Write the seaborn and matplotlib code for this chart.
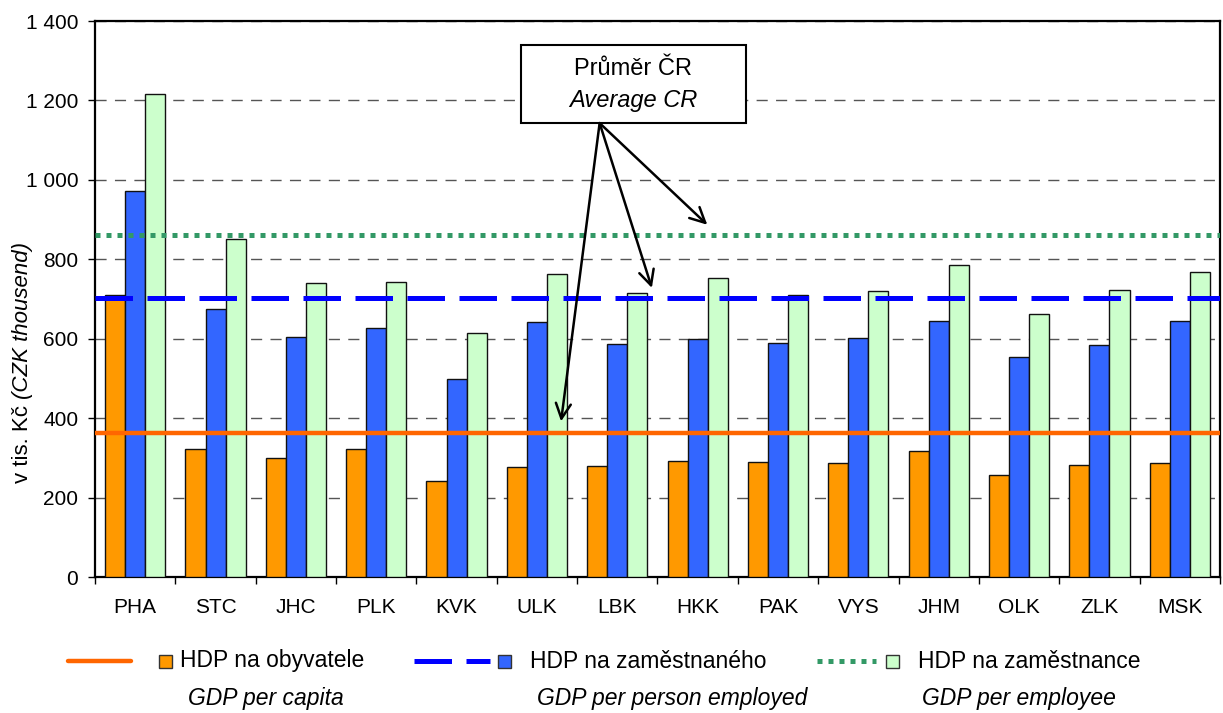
import numpy as np
import pandas as pd
import matplotlib
matplotlib.use("Agg")
import matplotlib.pyplot as plt
import seaborn as sns
from matplotlib.lines import Line2D
from matplotlib.patches import Rectangle
from matplotlib.ticker import FuncFormatter, MultipleLocator, FixedLocator

# data (v tis. Kč)
regions = ["PHA", "STC", "JHC", "PLK", "KVK", "ULK", "LBK", "HKK", "PAK", "VYS", "JHM", "OLK", "ZLK", "MSK"]
gdp_per_capita = [711, 322, 300, 322, 241, 276, 280, 292, 290, 288, 318, 256, 283, 286]
gdp_per_person_employed = [973, 675, 604, 627, 499, 642, 587, 599, 590, 601, 645, 555, 585, 645]
gdp_per_employee = [1216, 851, 740, 743, 614, 764, 715, 753, 709, 721, 786, 662, 723, 768]
series_names = ["HDP na obyvatele", "HDP na zaměstnaného", "HDP na zaměstnance"]
series_names_en = ["GDP per capita", "GDP per person employed", "GDP per employee"]
cr_average = [362, 702, 860]

bar_colors = ["#FF9900", "#3366FF", "#CCFFCC"]
line_colors = ["#FF6600", "#0000FF", "#339966"]

sns.set_theme(style="white")
plt.rcParams["font.family"] = ["Liberation Sans", "DejaVu Sans"]
plt.rcParams["text.color"] = "black"

df = pd.DataFrame({
    "kraj": regions * 3,
    "hodnota": gdp_per_capita + gdp_per_person_employed + gdp_per_employee,
    "serie": np.repeat(series_names, len(regions)),
})

fig = plt.figure(figsize=(12.23, 7.13), dpi=100)
ax = fig.add_axes([0.0777, 0.1907, 0.9198, 0.7798])

sns.barplot(data=df, x="kraj", y="hodnota", hue="serie", hue_order=series_names,
            palette=bar_colors, width=0.75, edgecolor="#111111", linewidth=1.0,
            saturation=1, legend=False, ax=ax, zorder=3)

# averages for CR
ax.axhline(cr_average[0], color=line_colors[0], lw=3.2, zorder=4)
ax.axhline(cr_average[1], color=line_colors[1], lw=3.6, dashes=(7.5, 2.9), zorder=4)
ax.axhline(cr_average[2], color=line_colors[2], lw=3.6, dashes=(1.0, 1.2), zorder=4)

ax.set_xlim(-0.5, len(regions) - 0.5)
ax.set_ylim(0, 1400)
ax.yaxis.set_major_locator(MultipleLocator(200))
ax.yaxis.set_major_formatter(FuncFormatter(lambda v, p: f"{int(v):,}".replace(",", " ")))
ax.yaxis.grid(True, color="#555555", lw=1.0, dashes=(8, 6))
ax.set_axisbelow(True)
for s in ax.spines.values():
    s.set_color("black")
    s.set_linewidth(1.6)

ax.set_xlabel("")
ax.set_ylabel("")
ax.tick_params(axis="x", which="major", length=0, pad=15, labelsize=15, colors="black")
ax.xaxis.set_minor_locator(FixedLocator(np.arange(-0.5, len(regions), 1.0)))
ax.tick_params(axis="x", which="minor", bottom=True, length=5, width=1, color="black")
ax.tick_params(axis="y", which="major", left=True, length=5, width=1, pad=7, labelsize=15,
               colors="black")

# y label: normal + italic part
t1 = fig.text(0.018, 0.3226, "v tis. Kč ", rotation=90, ha="center", va="bottom", fontsize=16)
ax.annotate("(CZK thousend)", xy=(0.5, 1.0), xycoords=t1, rotation=90, ha="center",
            va="bottom", fontsize=16, style="italic", annotation_clip=False)

# annotation box "Průměr ČR"
ax.add_patch(Rectangle((4.80, 1143), 2.80, 197, facecolor="white", edgecolor="black",
                       lw=1.5, zorder=6))
ax.text(6.2, 1279, "Průměr ČR", ha="center", va="center", fontsize=17, zorder=7)
ax.text(6.2, 1201, "Average CR", ha="center", va="center", fontsize=17, style="italic", zorder=7)
for tip in [(5.30, 392), (6.43, 728), (7.12, 887)]:
    ax.annotate("", xy=tip, xytext=(5.78, 1143),
                arrowprops=dict(arrowstyle="->,head_length=0.9,head_width=0.45", color="black",
                                lw=1.8, shrinkA=0, shrinkB=0), zorder=7)

# legend
W, H = 1223.0, 713.0
def fx(px):
    return px / W
def fy(py):
    return 1 - py / H

row1 = 661
fig.add_artist(Line2D([fx(68), fx(131)], [fy(row1), fy(row1)], color=line_colors[0], lw=3.2))
fig.add_artist(Line2D([fx(414), fx(490)], [fy(row1), fy(row1)], color=line_colors[1], lw=3.6,
                      dashes=(7.5, 2.9)))
fig.add_artist(Line2D([fx(817), fx(876)], [fy(row1), fy(row1)], color=line_colors[2], lw=3.6,
                      dashes=(1.0, 1.2)))
for sq_x, txt_x, col, name in zip([159, 498, 886], [180, 530, 918], bar_colors, series_names):
    fig.add_artist(Rectangle((fx(sq_x), fy(row1 + 6.5)), fx(13), 13 / H, facecolor=col,
                             edgecolor="#333333", lw=1.0, transform=fig.transFigure))
    fig.text(fx(txt_x), fy(row1), name, ha="left", va="center", fontsize=16.5)
for txt_x, name in zip([188, 537, 922], series_names_en):
    fig.text(fx(txt_x), fy(698), name, ha="left", va="center", fontsize=16.5, style="italic")

fig.savefig("out.png", dpi=100)
